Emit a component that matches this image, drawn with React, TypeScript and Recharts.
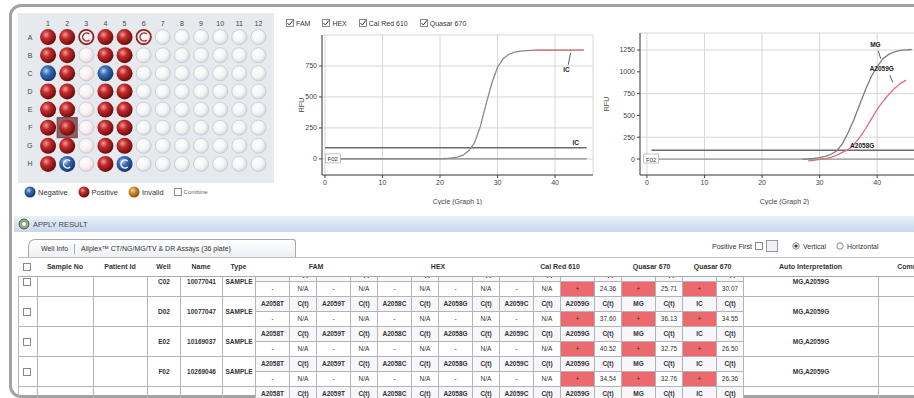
import React from 'react'
import {
  LineChart,
  Line,
  XAxis,
  YAxis,
  CartesianGrid,
  ReferenceLine,
  ReferenceDot,
  ScatterChart,
  Scatter
} from 'recharts'

// plate layout
const plateRows = ['A', 'B', 'C', 'D', 'E', 'F', 'G', 'H']
const plateCols = [1, 2, 3, 4, 5, 6, 7, 8, 9, 10, 11, 12]
// P positive, N negative, C negative (marked), I invalid ring, S selected positive, W pale well, E empty
const plateStates = [
  'PPIPPIEEEEEE',
  'PPWPPEEEEEEE',
  'NPWNPEEEEEEE',
  'PPWPPEEEEEEE',
  'PPWPPEEEEEEE',
  'PSWPPEEEEEEE',
  'PPWPPEEEEEEE',
  'PCWPCEEEEEEE'
]

// amplification curves
const cycles = [
  1, 2, 3, 4, 5, 6, 7, 8, 9, 10, 11, 12, 13, 14, 15, 16, 17, 18, 19, 20, 21, 22, 23,
  24, 25, 26, 27, 28, 29, 30, 31, 32, 33, 34, 35, 36, 37, 38, 39, 40, 41, 42, 43, 44,
  45, 46
]
const graph1Curve = [
  0, 0, 0, 0, 0, 0, 0, 0, 0, 0,
  0, 0, 0, 0, 0, 0, 0, 0, 0, 0,
  3, 8, 15, 30, 65, 130, 260, 440, 610, 740,
  810, 845, 862, 870, 874, 876, 877, 877, 878, 878,
  878, 878, 878, 878, 878, null
]
const graph1Ic = [
  null, null, null, null, null, null, null, null, null, null,
  null, null, null, null, null, null, null, null, null, null,
  null, null, null, null, null, null, null, null, null, null,
  null, null, null, null, null, 876, 877, 877, 878, 878,
  878, 878, 878, 878, 878, null
]
const graph2Mg = [
  null, null, null, null, null, null, null, null, null, null,
  null, null, null, null, null, null, null, null, null, null,
  null, null, null, null, null, null, 0, 3, 8, 15,
  30, 55, 95, 180, 310, 460, 630, 800, 950, 1060,
  1150, 1200, 1230, 1245, 1252, 1256
]
const graph2A2059g = [
  null, null, null, null, null, null, null, null, null, null,
  null, null, null, null, null, null, null, null, null, null,
  null, null, null, null, null, null, null, -20, -15, -5,
  5, 20, 45, 80, 110, 170, 250, 350, 460, 570,
  660, 740, 810, 865, 905, null
]
const graph1Threshold = 90
const graph2Threshold = 100
const cycleTicks = [0, 10, 20, 30, 40]
const graph1YTicks = [0, 250, 500, 750]
const graph2YTicks = [0, 250, 500, 750, 1000, 1250]
const channels = ['FAM', 'HEX', 'Cal Red 610', 'Quasar 670']

// result table
const wells = ['C02', 'D02', 'E02', 'F02', 'G02']
const sampleNames = ['10077041', '10077047', '10169037', '10269046', '10270018']
const targetNames = ['A2058T', 'A2059T', 'A2058C', 'A2058G', 'A2059C', 'A2059G', 'MG', 'IC']
const targetSigns = ['-', '-', '-', '-', '-', '+', '+', '+']
const ctA2059g = ['24.36', '37.60', '40.52', '34.54', '33.10']
const ctMg = ['25.71', '36.13', '32.75', '32.76', '31.20']
const ctIc = ['30.07', '34.55', '26.50', '26.36', '27.02']
const interpretations = ['MG,A2059G', 'MG,A2059G', 'MG,A2059G', 'MG,A2059G', 'MG,A2059G']

const wellData = plateStates.flatMap((line, r) =>
  line.split('').map((st, c) => ({ col: plateCols[c], row: r + 1, state: st }))
)
const graph1Data = cycles.map((c, i) => ({ cycle: c, curve: graph1Curve[i], ic: graph1Ic[i] }))
const graph2Data = cycles.map((c, i) => ({ cycle: c, mg: graph2Mg[i], a2059g: graph2A2059g[i] }))

const FONT = '"Liberation Sans", Arial, sans-serif'
const tickStyle = { fontSize: 7, fill: '#444', fontFamily: FONT }

function GradientDefs() {
  return (
    <svg width={0} height={0} style={{ position: 'absolute' }}>
      <defs>
        <radialGradient id="gPos" cx="38%" cy="35%" r="65%">
          <stop offset="0" stopColor="#f29a9a" />
          <stop offset="0.4" stopColor="#c42a2a" />
          <stop offset="1" stopColor="#6a0c0c" />
        </radialGradient>
        <radialGradient id="gNeg" cx="38%" cy="35%" r="65%">
          <stop offset="0" stopColor="#b4d0f2" />
          <stop offset="0.4" stopColor="#3a6cb4" />
          <stop offset="1" stopColor="#14356c" />
        </radialGradient>
        <radialGradient id="gInv" cx="38%" cy="35%" r="65%">
          <stop offset="0" stopColor="#f8d49a" />
          <stop offset="0.45" stopColor="#d08a2a" />
          <stop offset="1" stopColor="#84500f" />
        </radialGradient>
        <radialGradient id="gEmpty" cx="40%" cy="38%" r="65%">
          <stop offset="0" stopColor="#ffffff" />
          <stop offset="0.6" stopColor="#f3f4f6" />
          <stop offset="1" stopColor="#d3d6db" />
        </radialGradient>
        <radialGradient id="gPale" cx="40%" cy="38%" r="65%">
          <stop offset="0" stopColor="#ffffff" />
          <stop offset="0.6" stopColor="#f7eff1" />
          <stop offset="1" stopColor="#e3d2d6" />
        </radialGradient>
      </defs>
    </svg>
  )
}

function Well(props: any) {
  const { cx, cy, payload } = props
  const st = payload.state
  const r = 8
  if (st === 'E' || st === 'W') {
    return (
      <circle cx={cx} cy={cy} r={r - 0.5} fill={st === 'W' ? 'url(#gPale)' : 'url(#gEmpty)'}
        stroke="#c4c8cd" strokeWidth={0.8} />
    )
  }
  if (st === 'I') {
    return (
      <g>
        <circle cx={cx} cy={cy} r={r - 0.8} fill="url(#gPale)" stroke="#8e2626" strokeWidth={1.8} />
        <path d={`M ${cx + 3} ${cy - 3} A 4 4 0 1 0 ${cx + 3} ${cy + 3}`} fill="none" stroke="#9a2c2c" strokeWidth={1.4} />
      </g>
    )
  }
  if (st === 'N' || st === 'C') {
    return (
      <g>
        <circle cx={cx} cy={cy} r={r} fill="url(#gNeg)" />
        {st === 'C' && (
          <path d={`M ${cx + 3} ${cy - 3} A 4 4 0 1 0 ${cx + 3} ${cy + 3}`} fill="none" stroke="#ffffff" strokeWidth={1.4} />
        )}
      </g>
    )
  }
  return (
    <g>
      {st === 'S' && <rect x={cx - 10} y={cy - 10} width={20} height={20} fill="#8f6068" stroke="#6d4048" />}
      <circle cx={cx} cy={cy} r={r} fill="url(#gPos)" />
    </g>
  )
}

function LegendDot({ fill }: { fill: string }) {
  return (
    <svg width={12} height={12} style={{ verticalAlign: 'middle' }}>
      <circle cx={6} cy={6} r={5.5} fill={fill} />
    </svg>
  )
}

function CheckBox({ checked }: { checked: boolean }) {
  return (
    <svg width={8} height={8} style={{ verticalAlign: 'middle', marginRight: 2 }}>
      <rect x={0.5} y={0.5} width={7} height={7} fill="#fff" stroke="#888" />
      {checked && <path d="M1.5 4 L3.3 6 L6.8 1.5" fill="none" stroke="#333" strokeWidth={1} />}
    </svg>
  )
}

const tag = (text: string) => (p: any) => (
  <g>
    <rect x={p.cx - 2} y={p.cy - 5} width={15} height={9} fill="#fff" stroke="#9a9a9a" strokeWidth={0.6} />
    <text x={p.cx + 5.5} y={p.cy + 2.5} fontSize={6} textAnchor="middle" fill="#333" fontFamily={FONT}>{text}</text>
  </g>
)

const note = (text: string) => (p: any) => (
  <text x={p.cx} y={p.cy} fontSize={6.5} fontWeight="bold" textAnchor="middle" fill="#222" fontFamily={FONT}>{text}</text>
)

function PlatePanel() {
  return (
    <>
      <div style={{ position: 'absolute', left: 18, top: 13, width: 256, height: 170, background: '#e6e9ed' }}>
        <ScatterChart width={256} height={170} margin={{ top: 0, right: 6, bottom: 10, left: 0 }}>
          <XAxis type="number" dataKey="col" orientation="top" domain={[0.5, 12.5]} ticks={plateCols}
            interval={0} height={15} axisLine={false} tickLine={false} tickSize={0} tickMargin={2} tick={tickStyle} />
          <YAxis type="number" dataKey="row" domain={[0.5, 8.5]} reversed ticks={[1, 2, 3, 4, 5, 6, 7, 8]}
            interval={0} width={20.5} axisLine={false} tickLine={false} tickSize={0} tickMargin={6}
            tickFormatter={(v: number) => plateRows[v - 1]} tick={tickStyle} />
          <Scatter data={wellData} shape={(p: any) => <Well {...p} />} isAnimationActive={false} />
        </ScatterChart>
      </div>
      <div style={{ position: 'absolute', left: 24, top: 186, fontSize: 7.5, color: '#333', display: 'flex', alignItems: 'center', whiteSpace: 'nowrap' }}>
        <LegendDot fill="url(#gNeg)" /><span style={{ marginLeft: 2, marginRight: 10 }}>Negative</span>
        <LegendDot fill="url(#gPos)" /><span style={{ marginLeft: 2, marginRight: 10 }}>Positive</span>
        <LegendDot fill="url(#gInv)" /><span style={{ marginLeft: 2, marginRight: 10 }}>Invalid</span>
        <CheckBox checked={false} /><span style={{ fontSize: 6, color: '#666' }}>Combine</span>
      </div>
    </>
  )
}

function Graph1() {
  return (
    <div style={{ position: 'absolute', left: 280, top: 30 }}>
      <LineChart width={320} height={175} data={graph1Data} margin={{ top: 5, right: 7, bottom: 0, left: 0 }}>
        <CartesianGrid stroke="#d6d6d6" />
        <XAxis dataKey="cycle" type="number" domain={[-0.52, 46.6]} ticks={cycleTicks} allowDataOverflow
          height={30} tick={tickStyle} tickSize={3} stroke="#444"
          label={{ value: 'Cycle (Graph 1)', position: 'insideBottom', offset: 1, style: { fontSize: 7, fill: '#444' } }} />
        <YAxis type="number" domain={[-130, 1000]} ticks={graph1YTicks} allowDataOverflow width={42}
          tick={tickStyle} tickSize={3} stroke="#444"
          label={{ value: 'RFU', angle: -90, position: 'insideLeft', offset: 22, style: { fontSize: 7, fill: '#444', textAnchor: 'middle' } }} />
        <ReferenceLine segment={[{ x: 0, y: 0 }, { x: 45.5, y: 0 }]} stroke="#8c8c8c" strokeWidth={1.2} />
        <ReferenceLine segment={[{ x: 0, y: graph1Threshold }, { x: 45.5, y: graph1Threshold }]} stroke="#6a6a6a" strokeWidth={1.5} />
        <Line dataKey="curve" stroke="#8a8a8a" strokeWidth={1.3} dot={false} activeDot={false} isAnimationActive={false} />
        <Line dataKey="ic" stroke="#e07a84" strokeWidth={1.3} dot={false} activeDot={false} isAnimationActive={false} />
        <ReferenceDot x={0.4} y={0} r={0} shape={tag('F02')} />
        <ReferenceDot x={43.6} y={115} r={0} shape={note('IC')} />
        <ReferenceDot x={42} y={700} r={0} shape={note('IC')} />
        <ReferenceLine segment={[{ x: 42.3, y: 760 }, { x: 42.7, y: 855 }]} stroke="#333" strokeWidth={0.8} />
      </LineChart>
    </div>
  )
}

function Graph2() {
  return (
    <div style={{ position: 'absolute', left: 600, top: 30 }}>
      <LineChart width={329} height={175} data={graph2Data} margin={{ top: 3, right: 0, bottom: 0, left: 0 }}>
        <CartesianGrid stroke="#d6d6d6" />
        <XAxis dataKey="cycle" type="number" domain={[-1.2, 49]} ticks={cycleTicks} allowDataOverflow
          height={30} tick={tickStyle} tickSize={3} stroke="#444"
          label={{ value: 'Cycle (Graph 2)', position: 'insideBottom', offset: 1, style: { fontSize: 7, fill: '#444' } }} />
        <YAxis type="number" domain={[-183, 1445]} ticks={graph2YTicks} allowDataOverflow width={40}
          tick={tickStyle} tickSize={3} stroke="#444"
          label={{ value: 'RFU', angle: -90, position: 'insideLeft', offset: 7, style: { fontSize: 7, fill: '#444', textAnchor: 'middle' } }} />
        <ReferenceLine segment={[{ x: 0.3, y: 0 }, { x: 49, y: 0 }]} stroke="#8c8c8c" strokeWidth={1.2} />
        <ReferenceLine segment={[{ x: 0.8, y: graph2Threshold }, { x: 49, y: graph2Threshold }]} stroke="#6a6a6a" strokeWidth={1.5} />
        <Line dataKey="mg" stroke="#7c7c7c" strokeWidth={1.3} dot={false} activeDot={false} isAnimationActive={false} />
        <Line dataKey="a2059g" stroke="#e0707c" strokeWidth={1.3} dot={false} activeDot={false} isAnimationActive={false} />
        <ReferenceDot x={-0.2} y={0} r={0} shape={tag('F02')} />
        <ReferenceDot x={37.4} y={125} r={0} shape={note('A2058G')} />
        <ReferenceDot x={39.7} y={1290} r={0} shape={note('MG')} />
        <ReferenceLine segment={[{ x: 40.2, y: 1240 }, { x: 40.6, y: 1150 }]} stroke="#333" strokeWidth={0.8} />
        <ReferenceDot x={40.8} y={1010} r={0} shape={note('A2059G')} />
        <ReferenceLine segment={[{ x: 42.2, y: 960 }, { x: 42.7, y: 880 }]} stroke="#333" strokeWidth={0.8} />
      </LineChart>
    </div>
  )
}

const colWidths = [19, 56, 54, 33, 42, 33, 34, 27, 34, 27, 34, 27, 34, 27, 34, 27, 34, 27, 34, 27, 34, 27, 135, 60]

function Cols() {
  return (
    <colgroup>
      {colWidths.map((w, i) => <col key={i} style={{ width: w }} />)}
    </colgroup>
  )
}

const cell: React.CSSProperties = {
  border: '1px solid #b4b4b4', padding: 0, height: 14, lineHeight: '14px', textAlign: 'center',
  whiteSpace: 'nowrap', overflow: 'hidden', fontSize: 6.5, color: '#333'
}

function ResultTable() {
  const tableStyle: React.CSSProperties = {
    borderCollapse: 'collapse', tableLayout: 'fixed', width: colWidths.reduce((a, b) => a + b, 0), fontFamily: FONT
  }
  const hd: React.CSSProperties = { ...cell, height: 18, border: 'none', borderBottom: '1px solid #aaa', fontWeight: 'bold', fontSize: 7 }
  return (
    <>
      <div style={{ position: 'absolute', left: 18, top: 257, width: 896, height: 20, overflow: 'hidden', borderTop: '1px solid #bdbdbd' }}>
        <table style={tableStyle}>
          <Cols />
          <tbody>
            <tr>
              <td style={hd}><CheckBox checked={false} /></td>
              <td style={hd}>Sample No</td>
              <td style={hd}>Patient Id</td>
              <td style={hd}>Well</td>
              <td style={hd}>Name</td>
              <td style={hd}>Type</td>
              <td style={hd} colSpan={4}>FAM</td>
              <td style={hd} colSpan={4}>HEX</td>
              <td style={hd} colSpan={4}>Cal Red 610</td>
              <td style={hd} colSpan={2}>Quasar 670</td>
              <td style={hd} colSpan={2}>Quasar 670</td>
              <td style={hd}>Auto Interpretation</td>
              <td style={hd}>Comm</td>
            </tr>
          </tbody>
        </table>
      </div>
      <div style={{ position: 'absolute', left: 18, top: 277, width: 896, height: 121, overflow: 'hidden' }}>
        <table style={{ ...tableStyle, marginTop: -11 }}>
          <Cols />
          <tbody>
            {wells.map((w, i) => {
              const cts = ['N/A', 'N/A', 'N/A', 'N/A', 'N/A', ctA2059g[i], ctMg[i], ctIc[i]]
              return (
                <React.Fragment key={w}>
                  <tr>
                    <td style={{ ...cell, borderTop: '1px solid #8e8e8e' }} rowSpan={2}><CheckBox checked={false} /></td>
                    <td style={{ ...cell, borderTop: '1px solid #8e8e8e' }} rowSpan={2}></td>
                    <td style={{ ...cell, borderTop: '1px solid #8e8e8e' }} rowSpan={2}></td>
                    <td style={{ ...cell, borderTop: '1px solid #8e8e8e', fontWeight: 'bold' }} rowSpan={2}>{w}</td>
                    <td style={{ ...cell, borderTop: '1px solid #8e8e8e', fontWeight: 'bold' }} rowSpan={2}>{sampleNames[i]}</td>
                    <td style={{ ...cell, borderTop: '1px solid #8e8e8e', fontWeight: 'bold' }} rowSpan={2}>SAMPLE</td>
                    {targetNames.map((t) => (
                      <React.Fragment key={t}>
                        <td style={{ ...cell, borderTop: '1px solid #8e8e8e', fontWeight: 'bold', background: '#f6f6fb' }}>{t}</td>
                        <td style={{ ...cell, borderTop: '1px solid #8e8e8e', fontWeight: 'bold', background: '#f6f6fb' }}>C(t)</td>
                      </React.Fragment>
                    ))}
                    <td style={{ ...cell, borderTop: '1px solid #8e8e8e', fontWeight: 'bold' }} rowSpan={2}>{interpretations[i]}</td>
                    <td style={{ ...cell, borderTop: '1px solid #8e8e8e' }} rowSpan={2}></td>
                  </tr>
                  <tr>
                    {targetSigns.map((s, k) => (
                      <React.Fragment key={k}>
                        <td style={{ ...cell, background: s === '+' ? '#ec6a6e' : '#fff' }}>{s}</td>
                        <td style={cell}>{cts[k]}</td>
                      </React.Fragment>
                    ))}
                  </tr>
                </React.Fragment>
              )
            })}
          </tbody>
        </table>
      </div>
    </>
  )
}

export default function App() {
  return (
    <div style={{ position: 'absolute', left: 0, top: 0, width: 914, height: 398, overflow: 'hidden', background: '#fff', fontFamily: FONT }}>
      <GradientDefs />
      <div style={{ position: 'absolute', left: 9, top: 4, width: 940, height: 388, border: '3px solid #a2a2a2', borderRadius: 12 }} />
      <PlatePanel />
      <div style={{ position: 'absolute', left: 286, top: 19, fontSize: 7, color: '#333', display: 'flex', alignItems: 'center', whiteSpace: 'nowrap' }}>
        {channels.map((c) => (
          <span key={c} style={{ marginRight: 12, display: 'inline-flex', alignItems: 'center' }}>
            <CheckBox checked={true} />{c}
          </span>
        ))}
      </div>
      <Graph1 />
      <Graph2 />
      <div style={{ position: 'absolute', left: 14, top: 216, width: 900, height: 16, background: 'linear-gradient(#eaf1f9, #c6d7eb)', display: 'flex', alignItems: 'center', fontSize: 7.5, color: '#444' }}>
        <svg width={12} height={12} style={{ marginLeft: 4, marginRight: 3 }}>
          <circle cx={6} cy={6} r={5} fill="#8fa67a" stroke="#556b44" />
          <circle cx={6} cy={6} r={2} fill="#fff" />
        </svg>
        APPLY RESULT
      </div>
      <div style={{ position: 'absolute', left: 28, top: 239, width: 266, height: 17, border: '1px solid #a8a8a8', borderBottom: 'none', borderRadius: '7px 3px 0 0', background: 'linear-gradient(#ffffff, #eceff3)', fontSize: 7, color: '#333', display: 'flex', alignItems: 'center', whiteSpace: 'nowrap' }}>
        <span style={{ marginLeft: 12 }}>Well Info</span>
        <span style={{ margin: '0 6px', width: 1, height: 10, background: '#aaa' }} />
        <span>Allplex™ CT/NG/MG/TV &amp; DR Assays (36 plate)</span>
      </div>
      <div style={{ position: 'absolute', left: 712, top: 240, fontSize: 7, color: '#333', display: 'flex', alignItems: 'center', whiteSpace: 'nowrap' }}>
        Positive First <span style={{ marginLeft: 3 }}><CheckBox checked={false} /></span>
        <span style={{ display: 'inline-block', width: 10, height: 10, border: '1px solid #999', background: '#eef2f6', marginLeft: 1, marginRight: 14 }} />
        <svg width={8} height={8} style={{ marginRight: 3 }}><circle cx={4} cy={4} r={3.2} fill="#fff" stroke="#888" /><circle cx={4} cy={4} r={1.6} fill="#333" /></svg>
        Vertical
        <svg width={8} height={8} style={{ marginLeft: 10, marginRight: 3 }}><circle cx={4} cy={4} r={3.2} fill="#fff" stroke="#888" /></svg>
        Horizontal
      </div>
      <ResultTable />
    </div>
  )
}
